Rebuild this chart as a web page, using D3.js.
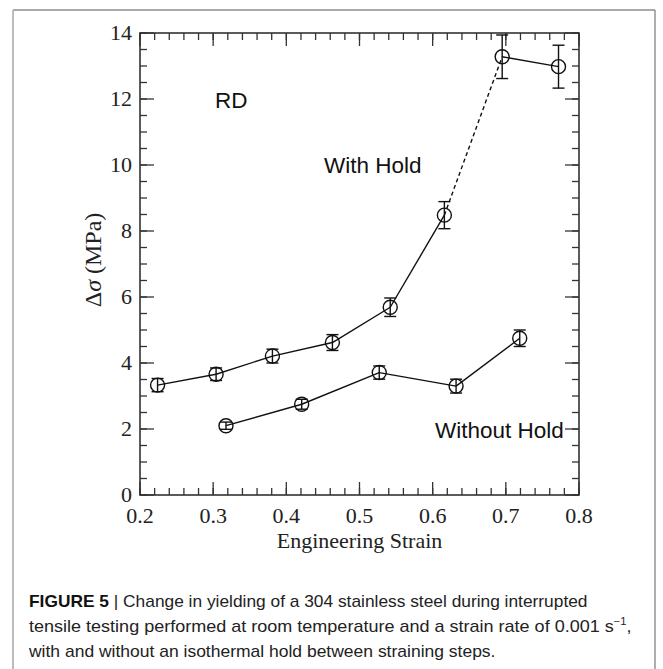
<!DOCTYPE html>
<html>
<head>
<meta charset="utf-8">
<script src="https://cdn.jsdelivr.net/npm/d3@7/dist/d3.min.js"></script>
<style>
  html, body { margin: 0; padding: 0; background: #fff; }
  svg { display: block; }
</style>
</head>
<body>
<div id="chart"></div>
<script>
// with hold series (strain, delta sigma, error half-height)
const withHoldStrain = [0.224, 0.304, 0.381, 0.463, 0.542, 0.616, 0.695, 0.772];
const withHoldStress = [3.33, 3.66, 4.21, 4.62, 5.69, 8.48, 13.28, 12.98];
const withHoldErr    = [0.20, 0.19, 0.21, 0.24, 0.28, 0.41, 0.66, 0.65];
// segment after this index is drawn dashed
const withHoldDashed = [5];

const withoutHoldStrain = [0.3175, 0.421, 0.527, 0.632, 0.719];
const withoutHoldStress = [2.10, 2.75, 3.71, 3.30, 4.75];
const withoutHoldErr    = [0.11, 0.15, 0.20, 0.21, 0.25];

const xTicks = [0.2, 0.3, 0.4, 0.5, 0.6, 0.7, 0.8];
const yTicks = [0, 2, 4, 6, 8, 10, 12, 14];

const labels = [
  { text: 'RD', x: 0.3025, y: 11.73 },
  { text: 'With Hold', x: 0.4515, y: 9.76 },
  { text: 'Without Hold', x: 0.6032, y: 1.73 },
];

const captionLines = [
  { bold: 'FIGURE 5', bar: ' | ', text: 'Change in yielding of a 304 stainless steel during interrupted', width: 559 },
  { text: 'tensile testing performed at room temperature and a strain rate of 0.001 s', sup: '\u22121', tail: ',', width: 603 },
  { text: 'with and without an isothermal hold between straining steps.', width: 468 },
];

const W = 663, H = 669;
const m = { left: 140, right: 84, top: 33, bottom: 174 };

const svg = d3.select('#chart').append('svg').attr('width', W).attr('height', H);

// figure frame
svg.append('line').attr('x1', 13).attr('x2', 655).attr('y1', 10).attr('y2', 10).attr('stroke', '#555').attr('stroke-width', 1.2);
svg.append('line').attr('x1', 13).attr('x2', 13).attr('y1', 10).attr('y2', H).attr('stroke', '#bbb').attr('stroke-width', 2);
svg.append('line').attr('x1', 655).attr('x2', 655).attr('y1', 10).attr('y2', H).attr('stroke', '#777').attr('stroke-width', 1.2);

const x = d3.scaleLinear().domain([0.2, 0.8]).range([m.left, W - m.right]);
const y = d3.scaleLinear().domain([0, 14]).range([H - m.bottom, m.top]);

const serif = '"Liberation Serif", "DejaVu Serif", serif';
const sans = '"Liberation Sans", Arial, sans-serif';
const axisColor = '#333';

// ticks, all inward on four sides
const g = svg.append('g');
const xMinor = d3.range(0.2, 0.8001, 0.02).map((v) => +v.toFixed(2));
const yMinor = d3.range(0, 14.001, 0.5);

function drawXTicks(vals, len) {
  vals.forEach((v) => {
    const px = x(v);
    g.append('line').attr('x1', px).attr('x2', px).attr('y1', y(0)).attr('y2', y(0) - len)
      .attr('stroke', axisColor).attr('stroke-width', 1.3);
    g.append('line').attr('x1', px).attr('x2', px).attr('y1', y(14)).attr('y2', y(14) + len)
      .attr('stroke', axisColor).attr('stroke-width', 1.3);
  });
}
function drawYTicks(vals, len) {
  vals.forEach((v) => {
    const py = y(v);
    g.append('line').attr('x1', x(0.2)).attr('x2', x(0.2) + len).attr('y1', py).attr('y2', py)
      .attr('stroke', axisColor).attr('stroke-width', 1.3);
    g.append('line').attr('x1', x(0.8)).attr('x2', x(0.8) - len).attr('y1', py).attr('y2', py)
      .attr('stroke', axisColor).attr('stroke-width', 1.3);
  });
}
drawXTicks(xMinor, 7);
drawXTicks(xTicks, 13);
drawYTicks(yMinor, 7);
drawYTicks(yTicks, 14);

g.append('rect')
  .attr('x', x(0.2)).attr('y', y(14))
  .attr('width', x(0.8) - x(0.2)).attr('height', y(0) - y(14))
  .attr('fill', 'none').attr('stroke', axisColor).attr('stroke-width', 1.6);

// tick labels
svg.append('g').selectAll('text').data(xTicks).join('text')
  .attr('x', (d) => x(d)).attr('y', y(0) + 28)
  .attr('text-anchor', 'middle')
  .attr('font-family', serif).attr('font-size', 22).attr('fill', '#222')
  .text((d) => d.toFixed(1));

svg.append('g').selectAll('text').data(yTicks).join('text')
  .attr('x', x(0.2) - 8).attr('y', (d) => y(d) + 7)
  .attr('text-anchor', 'end')
  .attr('font-family', serif).attr('font-size', 22).attr('fill', '#222')
  .text((d) => d);

// axis titles
svg.append('text')
  .attr('x', (x(0.2) + x(0.8)) / 2).attr('y', y(0) + 53)
  .attr('text-anchor', 'middle')
  .attr('font-family', serif).attr('font-size', 22).attr('fill', '#222')
  .text('Engineering Strain');

const yl = svg.append('text')
  .attr('transform', `translate(101,${(y(0) + y(14)) / 2 - 4}) rotate(-90)`)
  .attr('text-anchor', 'middle')
  .attr('font-family', serif).attr('font-size', 24).attr('fill', '#222');
yl.append('tspan').text('\u0394');
yl.append('tspan').attr('font-style', 'italic').text('\u03c3');
yl.append('tspan').text(' (MPa)');

// series
const line = d3.line().x((d) => x(d[0])).y((d) => y(d[1]));

function drawSeries(xs, ys, errs, dashed) {
  const pts = xs.map((v, i) => [v, ys[i], errs[i]]);
  const sg = svg.append('g');
  for (let i = 0; i < pts.length - 1; i++) {
    sg.append('path')
      .attr('d', line([pts[i], pts[i + 1]]))
      .attr('fill', 'none').attr('stroke', '#111').attr('stroke-width', 1.4)
      .attr('stroke-dasharray', dashed.includes(i) ? '4,3' : null);
  }
  pts.forEach((p) => {
    const px = x(p[0]);
    sg.append('line').attr('x1', px).attr('x2', px).attr('y1', y(p[1] - p[2])).attr('y2', y(p[1] + p[2]))
      .attr('stroke', '#111').attr('stroke-width', 1.4);
    [p[1] - p[2], p[1] + p[2]].forEach((e) => {
      sg.append('line').attr('x1', px - 6).attr('x2', px + 6).attr('y1', y(e)).attr('y2', y(e))
        .attr('stroke', '#111').attr('stroke-width', 1.4);
    });
    sg.append('circle').attr('cx', px).attr('cy', y(p[1])).attr('r', 7)
      .attr('fill', 'none').attr('stroke', '#111').attr('stroke-width', 1.4);
  });
}
drawSeries(withHoldStrain, withHoldStress, withHoldErr, withHoldDashed);
drawSeries(withoutHoldStrain, withoutHoldStress, withoutHoldErr, []);

// annotations
svg.append('g').selectAll('text').data(labels).join('text')
  .attr('x', (d) => x(d.x)).attr('y', (d) => y(d.y))
  .attr('font-family', sans).attr('font-size', 22.5).attr('fill', '#111')
  .text((d) => d.text);

// caption
const capY = [607, 632, 657];
captionLines.forEach((c, i) => {
  const t = svg.append('text')
    .attr('font-family', sans).attr('font-size', 16).attr('fill', '#222');
  if (c.bold) {
    t.append('tspan').attr('font-weight', 'bold').attr('fill', '#111').text(c.bold);
    t.append('tspan').text(c.bar);
  }
  t.append('tspan').text(c.text);
  if (c.sup) {
    t.append('tspan').attr('font-size', 10).attr('dy', -7).text(c.sup);
    t.append('tspan').attr('dy', 7).text(c.tail);
  }
  const w = t.node().getBBox().width;
  t.attr('transform', `translate(29,${capY[i]}) scale(${c.width / w},1)`);
});
</script>
</body>
</html>
